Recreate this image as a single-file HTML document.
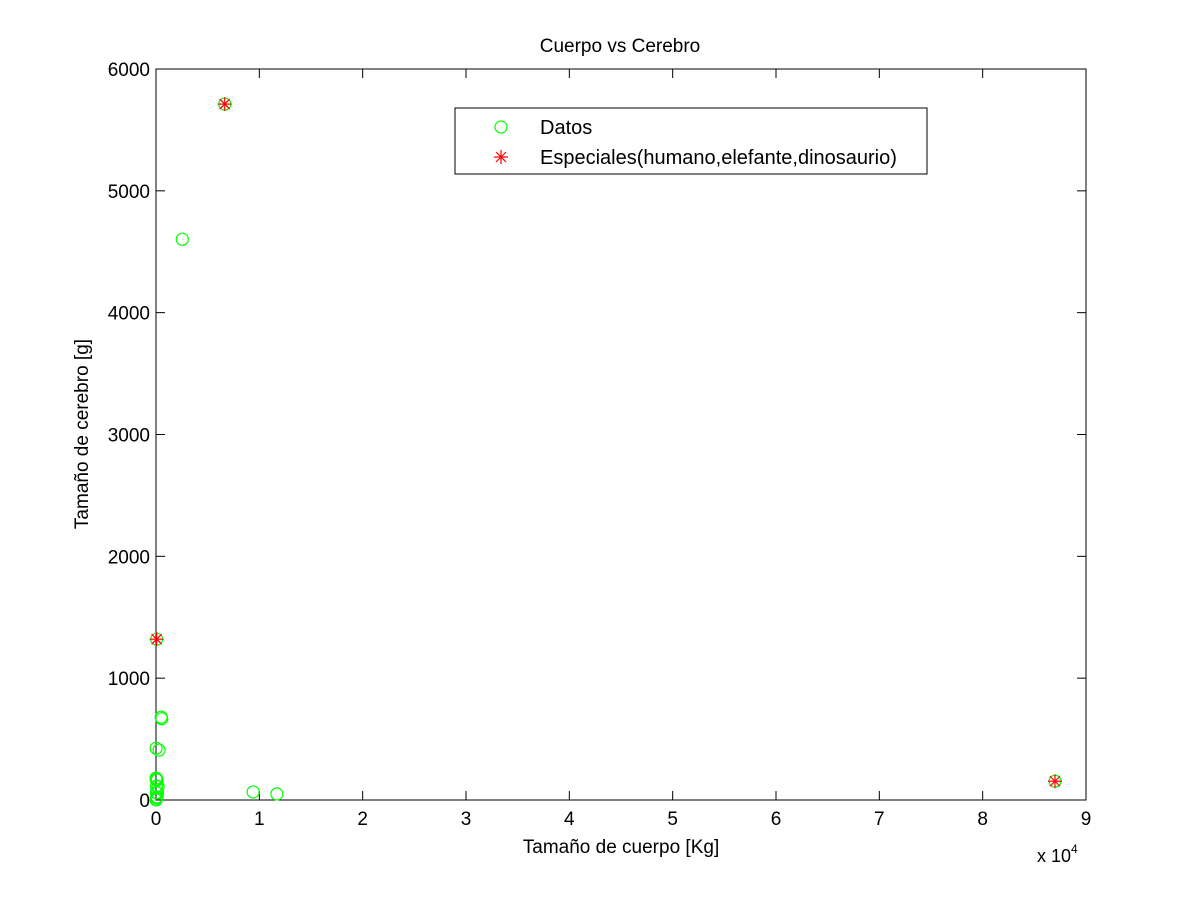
<!DOCTYPE html>
<html><head><meta charset="utf-8"><style>
body{margin:0;background:#fff;}
svg{display:block;font-family:"Liberation Sans",sans-serif;}
</style></head><body>
<svg id="chart" width="1200" height="900" xmlns="http://www.w3.org/2000/svg">
<rect x="0" y="0" width="1200" height="900" fill="#fff"/>
<text x="620" y="52" font-size="19" text-anchor="middle">Cuerpo vs Cerebro</text>
<rect x="156" y="69" width="930" height="731" fill="none" stroke="#000" stroke-width="1"/>
<g id="ticks"></g>
<g id="marks"></g>
<text x="621" y="853" font-size="19" text-anchor="middle">Tamaño de cuerpo [Kg]</text>
<text x="1037" y="862" font-size="18">x 10<tspan font-size="12" dy="-9">4</tspan></text>
<text transform="translate(88,434) rotate(-90)" font-size="19" text-anchor="middle">Tamaño de cerebro [g]</text>
<g>
<rect x="455" y="108" width="472" height="66" fill="#fff" stroke="#000"/>
<circle cx="501" cy="127" r="6" fill="none" stroke="#00ff00" stroke-width="1.2"/>
<text x="540" y="134" font-size="20">Datos</text>
<g stroke="#ff0000" stroke-width="1.2"><line x1="501" y1="150" x2="501" y2="164"/><line x1="494" y1="157" x2="508" y2="157"/><line x1="496" y1="152" x2="506" y2="162"/><line x1="506" y1="152" x2="496" y2="162"/></g>
<text x="540" y="164" font-size="20">Especiales(humano,elefante,dinosaurio)</text>
</g>
</svg>
<script>
const xTicks=[0,1,2,3,4,5,6,7,8,9];
const yTicks=[0,1000,2000,3000,4000,5000,6000];
const bodyKg=[10,25,60,100,150,200,30,50,120,5,15,80,10,300,550,500,62,2547,6654,9400,11700,87000];
const brainG=[1,5,17,25,57,109,60,115,164,180,169,170,425,410,667,680,1320,4603,5712,66,50,154];
const specialBody=[62,6654,87000];
const specialBrain=[1320,5712,154];
const NS="http://www.w3.org/2000/svg";
const L=156,R=1086,T=69,B=800;
const sx=v=>L+(v/1e4)/9*(R-L);
const sy=v=>B-v/6000*(B-T);
const tg=document.getElementById('ticks'),mg=document.getElementById('marks');
function mk(tag,at,p){const e=document.createElementNS(NS,tag);for(const k in at)e.setAttribute(k,at[k]);p.appendChild(e);return e;}
xTicks.forEach(t=>{const x=sx(t*1e4);
mk('line',{x1:x,y1:B,x2:x,y2:B-9,stroke:'#000'},tg);mk('line',{x1:x,y1:T,x2:x,y2:T+9,stroke:'#000'},tg);
const e=mk('text',{x:x,y:B+25,'font-size':19,'text-anchor':'middle'},tg);e.textContent=t;

});
yTicks.forEach(t=>{const y=sy(t);
mk('line',{x1:L,y1:y,x2:L+9,y2:y,stroke:'#000'},tg);mk('line',{x1:R,y1:y,x2:R-9,y2:y,stroke:'#000'},tg);
const e=mk('text',{x:L-6,y:y+7,'font-size':19,'text-anchor':'end'},tg);e.textContent=t;

});
bodyKg.forEach((b,i)=>{const c=mk('circle',{cx:sx(b),cy:sy(brainG[i]),r:6,fill:'none',stroke:'#00ff00','stroke-width':1.2},mg);

});
specialBody.forEach((b,i)=>{const x=sx(b),y=sy(specialBrain[i]);
const g=mk('g',{stroke:'#ff0000','stroke-width':1.2},mg);


mk('line',{x1:x,y1:y-7,x2:x,y2:y+7},g);mk('line',{x1:x-7,y1:y,x2:x+7,y2:y},g);
mk('line',{x1:x-5,y1:y-5,x2:x+5,y2:y+5},g);mk('line',{x1:x+5,y1:y-5,x2:x-5,y2:y+5},g);});
</script>
</body></html>
